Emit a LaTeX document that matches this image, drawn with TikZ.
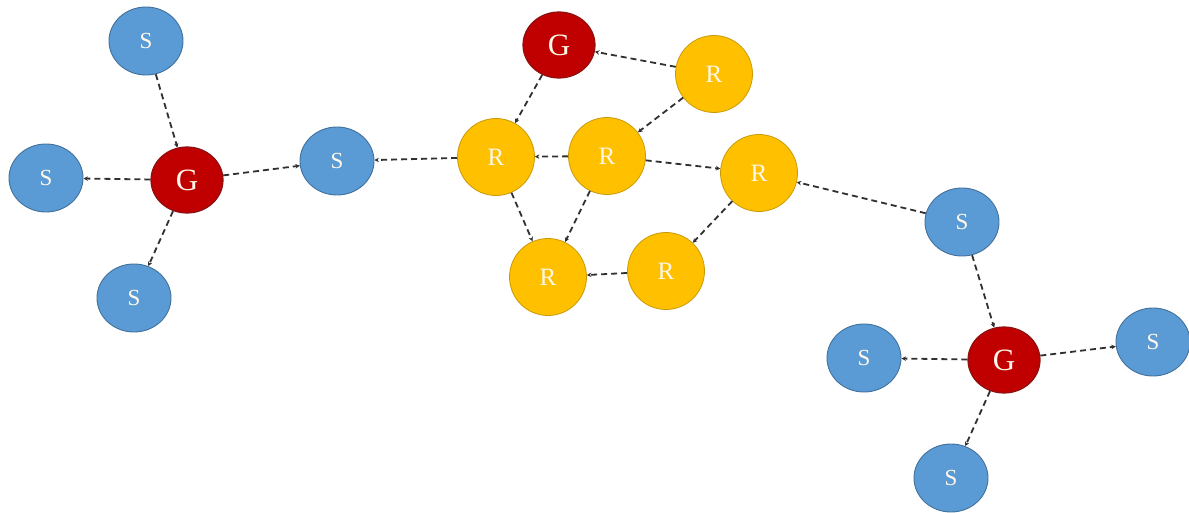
\documentclass[tikz,border=0pt]{standalone}
\usepackage{fontspec}
\setmainfont{Liberation Serif}
\usetikzlibrary{shapes.geometric,arrows.meta}
\definecolor{sblue}{HTML}{5B9BD5}
\definecolor{sblueb}{HTML}{41719C}
\definecolor{gred}{HTML}{C00000}
\definecolor{gredb}{HTML}{8E1010}
\definecolor{ryel}{HTML}{FFC000}
\definecolor{ryelb}{HTML}{C99A06}
\definecolor{lk}{HTML}{303030}
\definecolor{txt}{HTML}{FFF8EA}
\tikzset{
  snode/.style={ellipse, fill=sblue, draw=sblueb, line width=0.9pt, minimum width=74pt, minimum height=68pt, inner sep=0pt, text=txt, font=\fontsize{23}{23}\selectfont},
  gnode/.style={ellipse, fill=gred, draw=gredb, line width=1.2pt, minimum width=72pt, minimum height=66pt, inner sep=0pt, text=txt, font=\fontsize{31}{31}\selectfont},
  rnode/.style={ellipse, fill=ryel, draw=ryelb, line width=0.8pt, minimum width=77pt, minimum height=77pt, inner sep=0pt, text=txt, font=\fontsize{25}{25}\selectfont},
  lnk/.style={draw=lk, line width=1.8pt, dash pattern=on 6pt off 4pt, -{Stealth[length=4.5pt,width=4.5pt]}},
}
\begin{document}
\begin{tikzpicture}[x=1pt,y=-1pt]
\useasboundingbox (0,0) rectangle (1189,513);
% left cluster
\node[snode] (s1) at (146,41) {S};
\node[snode] (s2) at (46,178) {S};
\node[gnode] (g1) at (187,180) {G};
\node[snode] (s3) at (134,298) {S};
\node[snode] (s4) at (337,161) {S};
% middle cluster
\node[gnode] (g2) at (559,45) {G};
\node[rnode] (r0) at (714,74) {R};
\node[rnode] (r1) at (496,157) {R};
\node[rnode] (r2) at (607,156) {R};
\node[rnode] (r3) at (759,173) {R};
\node[rnode] (r4) at (548,277) {R};
\node[rnode] (r5) at (666,271) {R};
% right cluster
\node[snode] (s5) at (962,222) {S};
\node[gnode] (g3) at (1004,360) {G};
\node[snode] (s6) at (864,358) {S};
\node[snode] (s7) at (1153,342) {S};
\node[snode] (s8) at (951,478) {S};
% links
\draw[lnk] (s1) -- (g1);
\draw[lnk] (g1) -- (s2);
\draw[lnk] (g1) -- (s3);
\draw[lnk] (g1) -- (s4);
\draw[lnk] (r1) -- (s4);
\draw[lnk] (g2) -- (r1);
\draw[lnk] (r0) -- (g2);
\draw[lnk] (r0) -- (r2);
\draw[lnk] (r2) -- (r1);
\draw[lnk] (r2) -- (r3);
\draw[lnk] (r1) -- (r4);
\draw[lnk] (r2) -- (r4);
\draw[lnk] (r5) -- (r4);
\draw[lnk] (r3) -- (r5);
\draw[lnk] (s5) -- (r3);
\draw[lnk] (s5) -- (g3);
\draw[lnk] (g3) -- (s7);
\draw[lnk] (g3) -- (s8);
\draw[lnk] (g3) -- (s6);
\end{tikzpicture}
\end{document}
